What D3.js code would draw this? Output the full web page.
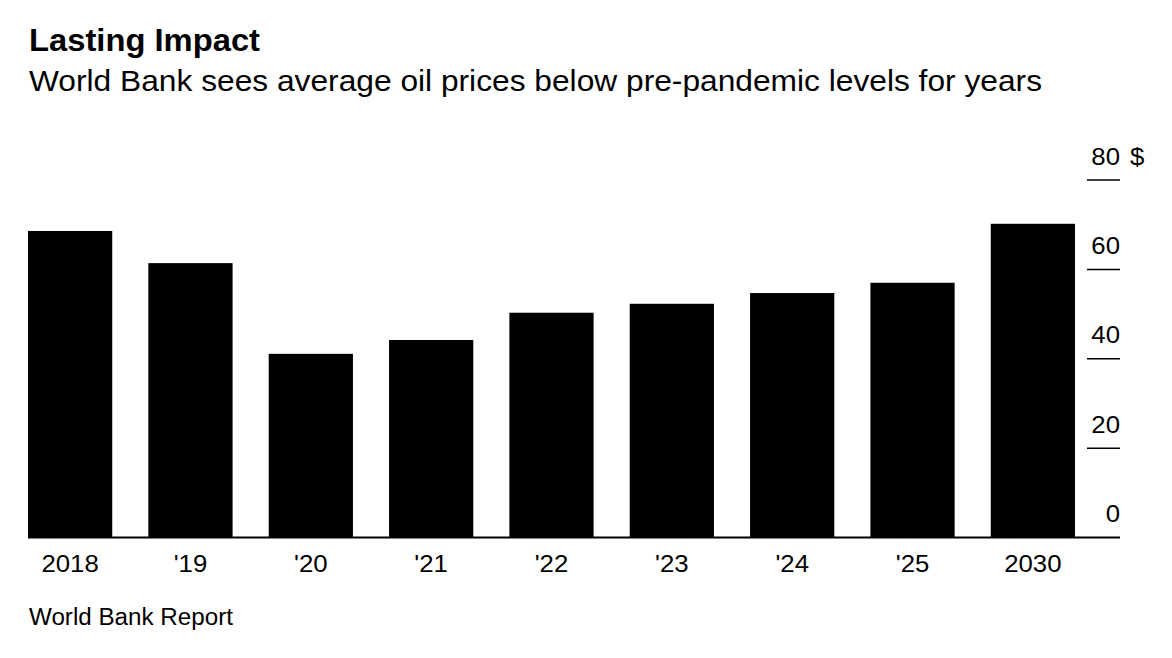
<!DOCTYPE html>
<html><head><meta charset="utf-8">
<script src="https://cdn.jsdelivr.net/npm/d3@7"></script>
<style>
body{margin:0;background:#fff;}
text{font-family:"Liberation Sans",Arial,Helvetica,sans-serif;fill:#000;}
</style></head>
<body>
<svg id="chart" width="1172" height="658"></svg>
<script>
const categories = ["2018","'19","'20","'21","'22","'23","'24","'25","2030"];
const values = [68.6, 61.4, 41.1, 44.2, 50.3, 52.3, 54.7, 57.0, 70.2];
const yTicks = [0, 20, 40, 60, 80];
const yTickLabels = ["0","20","40","60","80"];
const title = "Lasting Impact";
const subtitle = "World Bank sees average oil prices below pre-pandemic levels for years";
const source = "World Bank Report";

const svg = d3.select("#chart");
const x = d3.scaleBand().domain(categories).range([28, 1075]).paddingInner(0.3).paddingOuter(0);
const y = d3.scaleLinear().domain([0, 80]).range([537.5, 180]);

function stretchTo(sel, w) {
  sel.attr("textLength", w).attr("lengthAdjust", "spacingAndGlyphs");
}
function stretchBy(sel, k) {
  sel.each(function() {
    const len = this.getComputedTextLength();
    d3.select(this).attr("textLength", len * k).attr("lengthAdjust", "spacingAndGlyphs");
  });
}

stretchTo(svg.append("text").attr("x", 29).attr("y", 51).attr("font-size", 31).attr("font-weight", "bold").text(title), 231);
stretchTo(svg.append("text").attr("x", 29).attr("y", 91).attr("font-size", 29).text(subtitle), 1013);

svg.append("g").selectAll("rect").data(values).join("rect")
  .attr("x", (d,i) => x(categories[i]))
  .attr("width", x.bandwidth())
  .attr("y", d => y(d))
  .attr("height", d => y(0) - y(d))
  .attr("fill", "#000");

// baseline
svg.append("line").attr("x1", 28).attr("x2", 1120).attr("y1", y(0)).attr("y2", y(0))
  .attr("stroke", "#000").attr("stroke-width", 2);

// y ticks on right
const yg = svg.append("g");
yTicks.forEach((t, i) => {
  if (t !== 0) {
    yg.append("line").attr("x1", 1087).attr("x2", 1120).attr("y1", y(t)).attr("y2", y(t))
      .attr("stroke", "#000").attr("stroke-width", 1.5);
  }
  const tx = yg.append("text").attr("x", 1120).attr("y", y(t) - 15.5)
    .attr("font-size", 23).attr("text-anchor", "end").text(yTickLabels[i]);
  stretchBy(tx, 1.12);
  if (i === yTicks.length - 1) {
    const s = yg.append("text").attr("x", 1130).attr("y", y(t) - 15.5).attr("font-size", 23).text("$");
    stretchBy(s, 1.12);
  }
});

// x labels
const xl = svg.append("g").selectAll("text").data(categories).join("text")
  .attr("x", d => x(d) + x.bandwidth()/2)
  .attr("y", 572)
  .attr("font-size", 23)
  .attr("text-anchor", "middle")
  .text(d => d);
stretchBy(xl, 1.12);

stretchTo(svg.append("text").attr("x", 29).attr("y", 625).attr("font-size", 23).text(source), 204);
</script>
</body></html>
